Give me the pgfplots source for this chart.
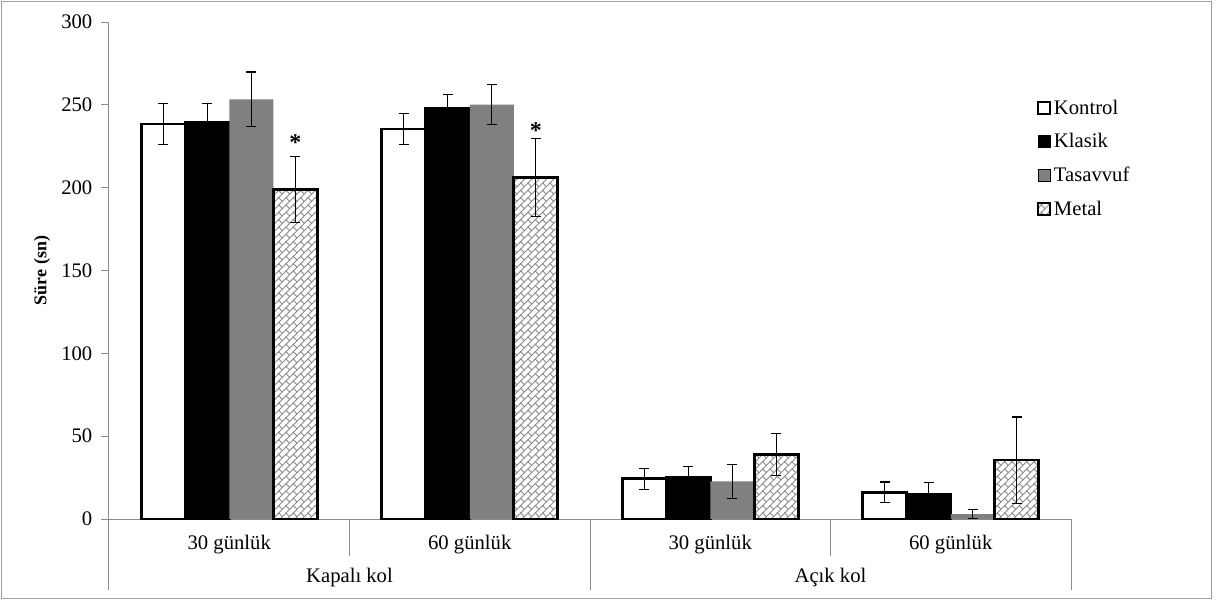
\documentclass[border=0pt]{standalone}
\usepackage{fontspec}
\setmainfont{Liberation Serif}
\usepackage{pgfplots}
\pgfplotsset{compat=1.18}
\usetikzlibrary{patterns}

\definecolor{axisgray}{HTML}{8C8C8C}
\definecolor{bargray}{HTML}{808080}
\definecolor{hatchgray}{HTML}{8A8A8A}

% diagonal brick fill for the Metal group
\pgfdeclarepatternformonly{diagbrick}{\pgfqpoint{-0.5pt}{-0.5pt}}{\pgfqpoint{6pt}{6pt}}{\pgfqpoint{5.5pt}{5.5pt}}{
  \pgfsetlinewidth{0.65pt}
  \pgfpathmoveto{\pgfqpoint{-0.5pt}{-0.5pt}}
  \pgfpathlineto{\pgfqpoint{6pt}{6pt}}
  \pgfpathmoveto{\pgfqpoint{2.75pt}{2.75pt}}
  \pgfpathlineto{\pgfqpoint{0pt}{5.5pt}}
  \pgfusepath{stroke}
}

% bar centres: group centre (0.5, 1.5, 2.5, 3.5) plus the bar's offset
% columns: x, mean, sd
\pgfplotstableread{
x       y      e
0.2255  238.4  12.3
1.2255  235.4  9.2
2.2255  24.3   6.3
3.2255  16.1   6.2
}\kontrol
\pgfplotstableread{
x       y      e
0.4085  239.7  11.0
1.4085  247.8  8.5
2.4085  25.3   6.3
3.4085  14.9   7.0
}\klasik
\pgfplotstableread{
x       y      e
0.5915  253.3  16.5
1.5915  250.2  12.0
2.5915  22.7   10.2
3.5915  3.0    2.8
}\tasavvuf
\pgfplotstableread{
x       y      e
0.7745  199.0  20.0
1.7745  206.2  23.4
2.7745  39.0   12.5
3.7745  35.6   26.0
}\metal

\pgfplotsset{
  mybar/.style={
    ybar, bar width=0.183, bar shift=0,
    error bars/y dir=both, error bars/y explicit,
    error bars/error mark options={rotate=90, mark size=3.75pt, line width=0.9pt, black},
    error bars/error bar style={line width=0.9pt, black},
  },
  sqlegend/.style={
    legend image code/.code={\draw[#1] (0pt,-4.5pt) rectangle (9pt,4.5pt);}
  },
}

\begin{document}
\begin{tikzpicture}
\begin{axis}[
  at={(0,0)}, anchor=south west,
  scale only axis, width=721.5pt, height=372.75pt,
  xmin=0, xmax=4, ymin=0, ymax=300,
  axis x line*=bottom, axis y line*=left,
  axis line style={draw=axisgray, line width=0.75pt, -},
  xtick=\empty,
  ytick={0,50,...,300},
  tick style={draw=axisgray, line width=0.75pt},
  tick align=outside, major tick length=6pt,
  yticklabel style={font=\fontsize{15.5}{18}\selectfont, xshift=-3pt},
  /pgf/number format/assume math mode=true,
  ylabel={\textbf{Süre (sn)}},
  ylabel style={at={(axis description cs:-0.0697,0.5)}, anchor=center, font=\fontsize{13.5}{16}\selectfont},
  clip=false,
  legend style={at={(rel axis cs:0.9647,0.849)}, anchor=north west, draw=none, fill=none,
    font=\fontsize{15.5}{18}\selectfont, row sep=9pt, inner sep=0pt,
    cells={anchor=west}},
]
\addplot[mybar, fill=white, draw=black, line width=2.1pt, sqlegend,
  legend image post style={line width=1.5pt}]
  table[x=x, y=y, y error=e] {\kontrol};
\addlegendentry{Kontrol}
\addplot[mybar, fill=black, draw=black, line width=2.1pt, sqlegend,
  legend image post style={line width=0.5pt}]
  table[x=x, y=y, y error=e] {\klasik};
\addlegendentry{Klasik}
\addplot[mybar, fill=bargray, draw=none, sqlegend]
  table[x=x, y=y, y error=e] {\tasavvuf};
\addlegendentry{Tasavvuf}
\addplot[mybar, pattern=diagbrick, pattern color=hatchgray, draw=black, line width=2.1pt, sqlegend,
  legend image post style={line width=1.5pt}]
  table[x=x, y=y, y error=e] {\metal};
\addlegendentry{Metal}

% significance markers above the Metal bars
\addplot[only marks, mark=text, text mark={\fontsize{18}{18}\selectfont\bfseries *}, forget plot]
  coordinates {(0.7745,227.5) (1.7745,234.5)};

% category frame below the x axis
\draw[axisgray, line width=0.75pt] (axis cs:0,0) -- ++(0pt,-53.25pt);
\draw[axisgray, line width=0.75pt] (axis cs:1,0) -- ++(0pt,-27.75pt);
\draw[axisgray, line width=0.75pt] (axis cs:2,0) -- ++(0pt,-53.25pt);
\draw[axisgray, line width=0.75pt] (axis cs:3,0) -- ++(0pt,-27.75pt);
\draw[axisgray, line width=0.75pt] (axis cs:4,0) -- ++(0pt,-53.25pt);
\begin{scope}[every node/.style={font=\fontsize{15.5}{18}\selectfont}]
\node at (axis cs:0.5,0) [yshift=-19.5pt] {30 günlük};
\node at (axis cs:1.5,0) [yshift=-19.5pt] {60 günlük};
\node at (axis cs:2.5,0) [yshift=-19.5pt] {30 günlük};
\node at (axis cs:3.5,0) [yshift=-19.5pt] {60 günlük};
\node at (axis cs:1,0) [yshift=-44.25pt] {Kapalı kol};
\node at (axis cs:3,0) [yshift=-44.25pt] {Açık kol};
\end{scope}
\end{axis}
\draw[gray!75, line width=0.75pt] (-80.25pt,-59.25pt) rectangle (826.5pt,387.75pt);
\pgfresetboundingbox
\path[use as bounding box] (-81.75pt,-61.5pt) rectangle (831pt,389.25pt);
\end{tikzpicture}
\end{document}
